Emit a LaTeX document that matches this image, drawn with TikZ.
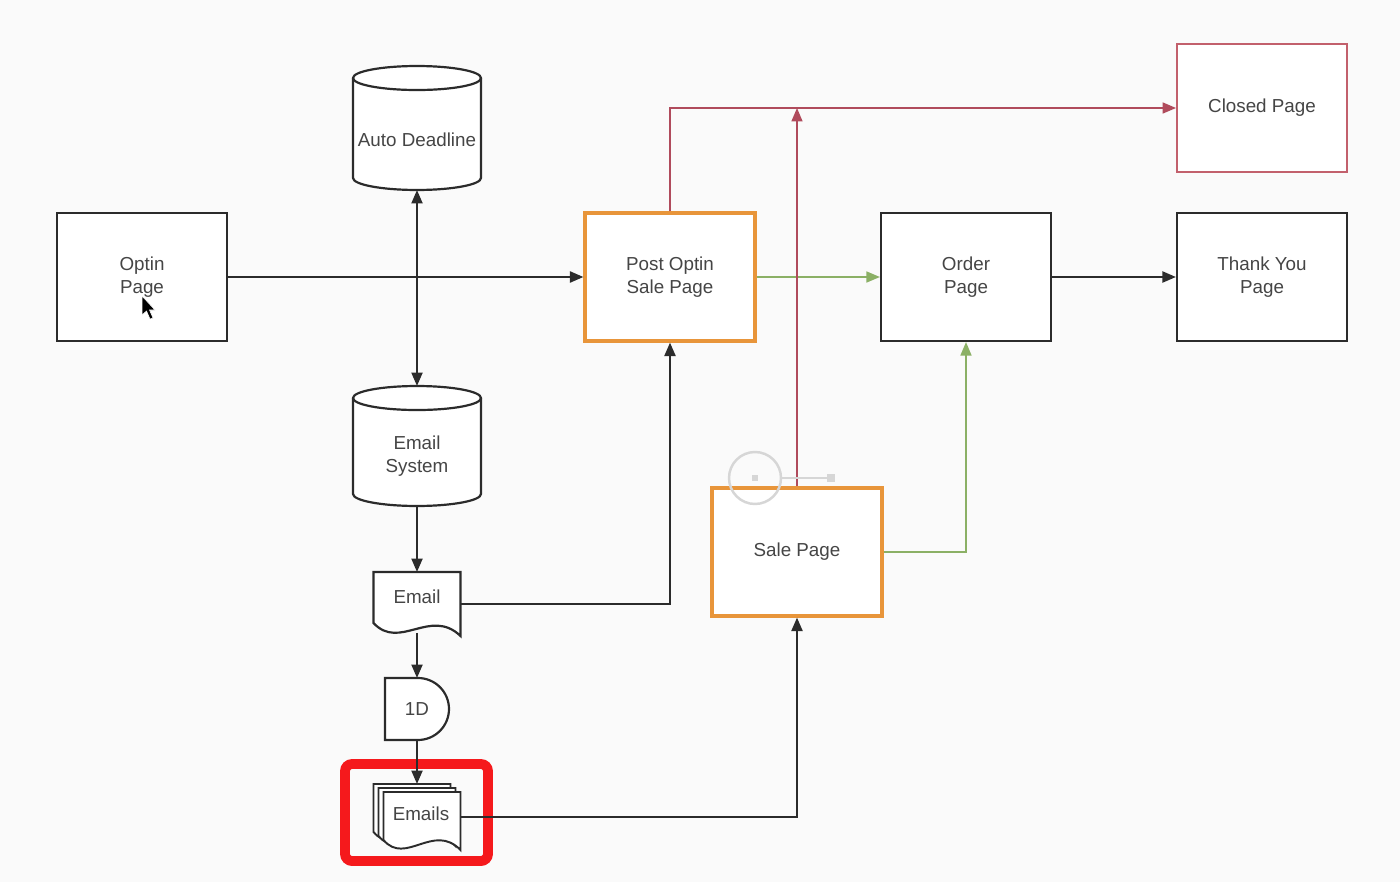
\documentclass[tikz,border=0pt]{standalone}
\usepackage{fontspec}
\setmainfont{Liberation Sans}
\usetikzlibrary{arrows.meta,calc}

\definecolor{bg}{HTML}{FAFAFA}
\definecolor{ink}{HTML}{2B2B2B}
\definecolor{txt}{HTML}{454545}
\definecolor{accent}{HTML}{E8953A}
\definecolor{closedred}{HTML}{C2606C}
\definecolor{redline}{HTML}{B04B5C}
\definecolor{greenline}{HTML}{8BB065}
\definecolor{hilite}{HTML}{F5191C}
\definecolor{handle}{HTML}{D6D6D6}

% database drum drawn around a named frame node
\newcommand\drum[1]{%
  \draw[ink, line width=1.25pt, fill=white]
    ($(#1.north west)+(0,12)$) -- ($(#1.south west)+(0,-12)$)
    arc[start angle=180, end angle=360, x radius=1.28cm, y radius=0.24cm]
    -- ($(#1.north east)+(0,12)$);
  \draw[ink, line width=1.25pt, fill=white]
    ($(#1.north)+(0,12)$) ellipse[x radius=1.28cm, y radius=0.24cm];
}

\begin{document}
\begin{tikzpicture}[x=0.02cm, y=-0.02cm,
  every node/.style={font=\fontsize{10.7}{13}\selectfont, text=txt, align=center},
  page/.style={draw=ink, line width=1.25pt, fill=white,
    minimum width=3.4cm, minimum height=2.56cm, inner sep=0pt},
  hot/.style={page, draw=accent, line width=1.8pt},
  closed/.style={page, draw=closedred, line width=1.1pt},
  frame/.style={inner sep=0pt, outer sep=0pt},
  label/.style={inner sep=0pt},
  sheet/.style={draw=ink, line width=1.1pt, fill=white},
  link/.style={draw=ink, line width=1.25pt, -{Triangle[length=0.27cm, width=0.22cm]}},
  thin/.style={line width=0.95pt},
]
\useasboundingbox (0,0) rectangle (1400,882);
\fill[bg] (0,0) rectangle (1400,882);

% ---------- page boxes ----------
\node[page] (optin) at (142,277) {Optin\\Page};
\node[hot] (post) at (670,277) {Post Optin\\Sale Page};
\node[page] (order) at (966,277) {Order\\Page};
\node[page] (thanks) at (1262,277) {Thank You\\Page};
\node[closed] (closedpg) at (1262,108) {Closed Page};
\node[hot] (sale) at (797,552) {Sale Page};

% ---------- databases ----------
\node[frame, minimum width=2.56cm, minimum height=2.48cm] (ad) at (417,128) {};
\drum{ad}
\node[label] (ad-label) at (417,140) {Auto Deadline};

\node[frame, minimum width=2.56cm, minimum height=2.4cm] (es) at (417,446) {};
\drum{es}
\node[label] (es-label) at (417,456) {Email\\System};

% ---------- single email document ----------
\node[frame, minimum width=1.74cm, minimum height=1.28cm] (mail) at (417,604) {};
\draw[sheet, line width=1.25pt, shift={(mail.north west)}]
  (0,0) -- (0,51) .. controls (26,79) and (57,35) .. (87,64) -- (87,0) -- cycle;
\node[label] (mail-label) at (417,597) {Email};

% ---------- one-day delay ----------
\node[frame, minimum width=1.28cm, minimum height=1.24cm] (wait) at (417,709) {};
\draw[ink, line width=1.25pt, fill=white]
  (wait.north west) -- ($(wait.north)+(1,0)$)
  arc[start angle=90, end angle=-90, radius=0.62cm]
  -- (wait.south west) -- cycle;
\node[label] (wait-label) at (wait.center) {1D};

% ---------- stack of emails ----------
\node[frame, minimum width=1.74cm, minimum height=1.32cm] (mails) at (417,817) {};
\foreach \d in {10,5,0}{
  \draw[sheet, shift={($(mails.north west)+(10-\d,8-0.8*\d)$)}]
    (0,0) -- (0,48) .. controls (22,74) and (50,30) .. (77,58) -- (77,0) -- cycle;
}
\node[label] (mails-label) at (421,814) {Emails};

% highlight around the stack
\node[draw=hilite, line width=5.6pt, rounded corners=4pt,
  minimum width=2.86cm, minimum height=1.94cm] (focus) at (416.5,812.5) {};

% ---------- connectors ----------
\draw[link] (optin.east) -- (post.west);
\draw[link, {Triangle[length=0.27cm, width=0.22cm]}-{Triangle[length=0.27cm, width=0.22cm]}]
  (ad.south) -- (es.north);
\draw[link] (es.south) -- (mail.north);
\draw[link] (mail.east) -| (post.south);
\draw[link] ($(mail.south)+(0,-3)$) -- (wait.north);
\draw[link] (wait.south) -- (mails.north);
\draw[link] (mails.east) -| (sale.south);
\draw[link] (order.east) -- (thanks.west);
\draw[link, thin, draw=greenline] (post.east) -- (order.west);
\draw[link, thin, draw=greenline] (sale.east) -| (order.south);
\draw[link, thin, draw=redline] (post.north) |- (closedpg.west);
\coordinate (junction) at (sale.north |- closedpg.west);
\draw[link, thin, draw=redline] (sale.north) -- (junction);

% ---------- selection handle ----------
\draw[handle, line width=1.4pt] (755,478) circle[radius=0.52cm];
\fill[handle] (752,475) rectangle (758,481);
\draw[handle, line width=1.2pt] (781,478) -- (827,478);
\fill[handle] (827,474) rectangle (835,482);

% ---------- pointer ----------
\filldraw[fill=black, draw=white, line width=0.3pt]
  (142,296) -- (142,315) -- (146.5,311) -- (150,319) -- (153,318) -- (149.5,310) -- (155,310) -- cycle;
\end{tikzpicture}
\end{document}
